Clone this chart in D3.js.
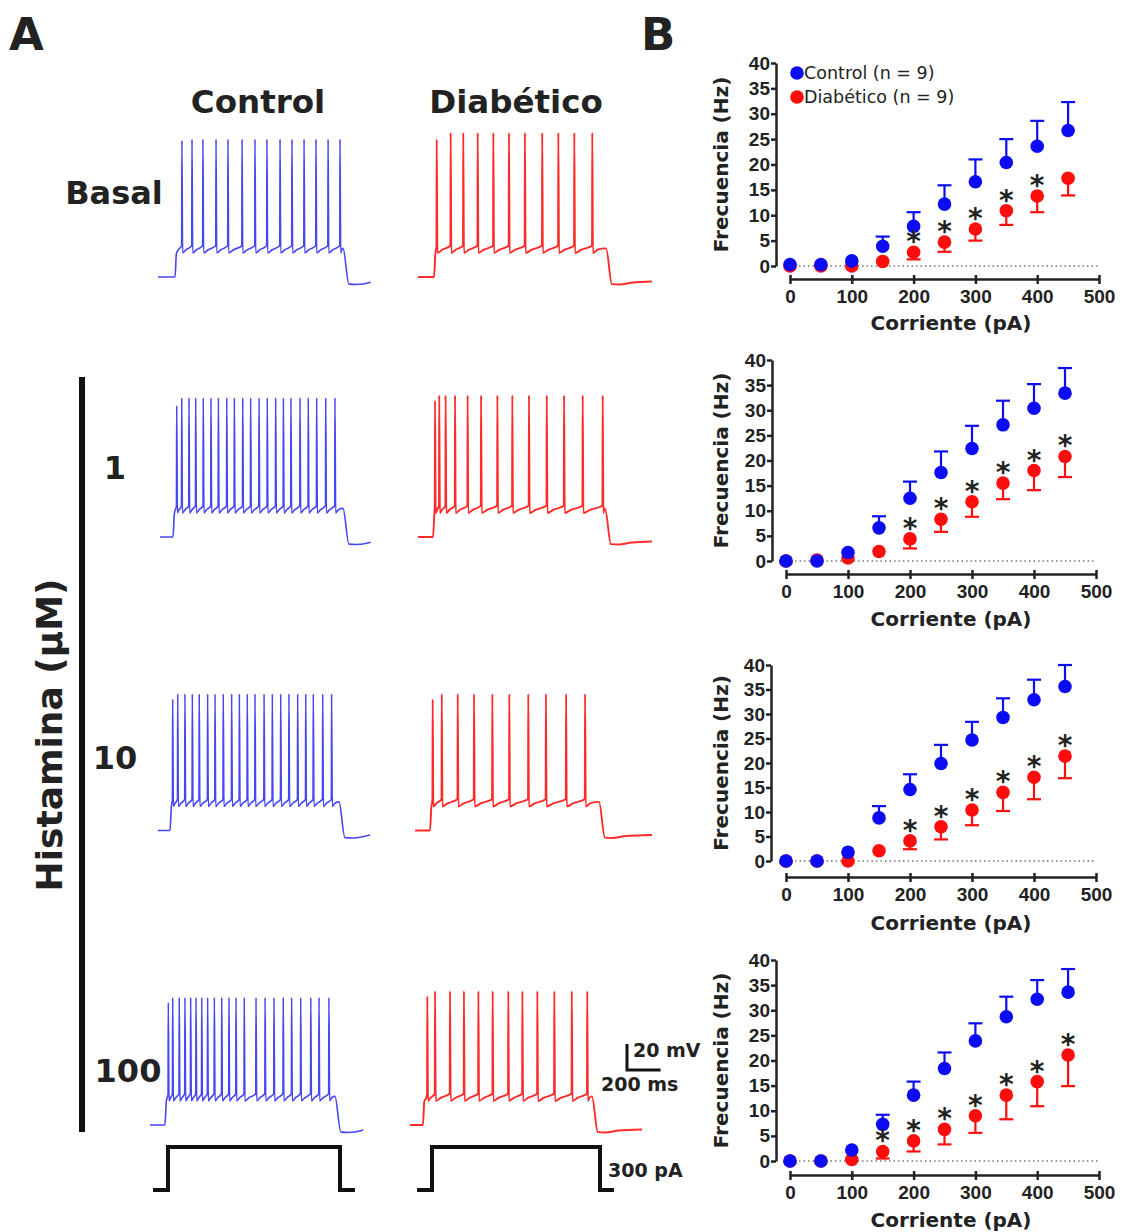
<!DOCTYPE html>
<html>
<head>
<meta charset="utf-8">
<script src="https://cdn.jsdelivr.net/npm/d3@7"></script>
<style>
  body { margin: 0; background: #fff; }
  svg text { font-family: "DejaVu Sans", sans-serif; fill: #222; }
  .axis path, .axis line { stroke: #222; stroke-width: 2.5; }
  .axis text { font-family: "Liberation Sans", Arial, sans-serif; font-weight: bold; font-size: 19px; fill: #222; }
</style>
</head>
<body>
<svg id="fig" width="1124" height="1232"></svg>
<script>
/* ---- data: panel B, frequency vs current ---- */
var currents = [0, 50, 100, 150, 200, 250, 300, 350, 400, 450];
var xTicks = [0, 100, 200, 300, 400, 500];
var yTicks = [0, 5, 10, 15, 20, 25, 30, 35, 40];

var ctrlBasal    = [0.3, 0.3, 1.0, 3.9, 7.8, 12.2, 16.6, 20.4, 23.6, 26.7];
var ctrlBasalErr = [0, 0, 0, 1.9, 2.8, 3.7, 4.4, 4.6, 5.0, 5.6];
var diabBasal    = [0, 0, 0, 0.9, 2.7, 4.7, 7.3, 10.9, 13.8, 17.3];
var diabBasalErr = [0, 0, 0, 0, 1.4, 1.9, 2.3, 2.8, 3.2, 3.4];
var starsBasal   = [200, 250, 300, 350, 400];

var ctrlH1    = [0, 0, 1.7, 6.6, 12.5, 17.6, 22.4, 27.1, 30.4, 33.4];
var ctrlH1Err = [0, 0, 0, 2.3, 3.3, 4.2, 4.5, 4.8, 4.8, 5.0];
var diabH1    = [0, 0.2, 0.6, 1.9, 4.4, 8.3, 11.8, 15.5, 18.0, 20.8];
var diabH1Err = [0, 0, 0, 0, 1.9, 2.5, 3.0, 3.2, 3.9, 4.1];
var starsH1   = [200, 250, 300, 350, 400, 450];

var ctrlH10    = [0, 0, 1.8, 8.8, 14.6, 19.9, 24.7, 29.3, 32.9, 35.6];
var ctrlH10Err = [0, 0, 0, 2.4, 3.1, 3.8, 3.7, 3.9, 4.1, 4.4];
var diabH10    = [0, 0, 0, 2.1, 4.1, 7.0, 10.4, 14.0, 17.1, 21.4];
var diabH10Err = [0, 0, 0, 0, 1.7, 2.6, 3.1, 3.8, 4.5, 4.5];
var starsH10   = [200, 250, 300, 350, 400, 450];

var ctrlH100    = [0, 0, 2.2, 7.3, 13.1, 18.4, 23.9, 28.7, 32.2, 33.6];
var ctrlH100Err = [0, 0, 0, 1.9, 2.7, 3.2, 3.5, 4.0, 3.8, 4.6];
var diabH100    = [0, 0, 0.3, 1.9, 4.0, 6.3, 9.0, 13.1, 15.8, 21.1];
var diabH100Err = [0, 0, 0, 1.4, 2.1, 3.0, 3.4, 4.8, 4.9, 6.2];
var starsH100   = [150, 200, 250, 300, 350, 400, 450];

/* ---- data: panel A, recordings (ms, mV) ---- */
// window: trace start, step on, step off, trace end (ms)
var winCtrlBasal = [48, 149, 1149, 1310];
var spkCtrlBasal = [190, 250, 315, 393, 464, 548, 625, 696, 774, 845, 917, 988, 1060, 1131];
var pkCtrlBasal  = [40, 41];
var winDiabBasal = [48, 143, 1167, 1440];
var spkDiabBasal = [159, 242, 317, 403, 496, 589, 684, 787, 883, 978, 1085];
var pkDiabBasal  = [41, 46];

var winCtrlH1 = [60, 137, 1149, 1310];
var spkCtrlH1 = [159, 189, 232, 272, 317, 363, 407, 457, 502, 552, 599, 649, 698, 748, 794, 839, 893, 942, 992, 1046, 1101];
var pkCtrlH1  = [36, 42];
var winDiabH1 = [48, 137, 1161, 1440];
var spkDiabH1 = [149, 174, 212, 268, 343, 423, 520, 609, 708, 814, 917, 1028, 1147];
var pkDiabH1  = [40, 44];

var winCtrlH10 = [48, 119, 1125, 1310];
var spkCtrlH10 = [135, 165, 208, 252, 293, 343, 387, 436, 486, 532, 579, 625, 679, 728, 778, 827, 879, 927, 972, 1028, 1081];
var pkCtrlH10  = [36, 40];
var winDiabH10 = [30, 119, 1125, 1440];
var spkDiabH10 = [135, 189, 284, 381, 490, 591, 704, 809, 929, 1042];
var pkDiabH10  = [36, 40];

var winCtrlH100 = [0, 89, 1101, 1268];
var spkCtrlH100 = [109, 135, 174, 208, 242, 274, 308, 343, 383, 427, 470, 512, 561, 631, 685, 738, 793, 843, 897, 957, 1006, 1065];
var pkCtrlH100  = [29, 33];
var winDiabH100 = [0, 77, 1083, 1381];
var spkDiabH100 = [103, 149, 238, 321, 407, 492, 585, 669, 758, 859, 963, 1055];
var pkDiabH100  = [34, 38];

var vRest = -65;
var stimCtrl = [18, 107, 1131, 1220];
var stimDiab = [42, 131, 1131, 1214];
var stimAmp = 300;

var rowLabels = ['Basal', '1', '10', '100'];

var svg = d3.select('#fig');
var BLUE = '#0c0cf4', RED = '#ff0d0d';

/* ================= Panel A ================= */
var colX = [150, 410];
var rowBase = [277, 537, 830.5, 1125];

function tracePoints(win, spk, pk) {
  var plat = vRest + 21, thr = vRest + 24, trough = vRest + 18.5;
  var p = [[win[0], vRest], [win[1], vRest]];
  if (win[1] + 8 < spk[0] - 2) p.push([win[1] + 8, plat - 3]);
  if (win[1] + 20 < spk[0] - 2) p.push([win[1] + 20, plat]);
  spk.forEach(function(t, i) {
    var next = i < spk.length - 1 ? spk[i + 1] : win[2];
    p.push([t - 1.5, thr]);
    p.push([t, i ? pk[1] : pk[0]]);
    p.push([t + 4, trough]);
    p.push([t + 4 + (next - t) * 0.35, trough + 2.5]);
  });
  p.push([win[2], plat + 1]);
  p.push([win[2] + 35, vRest - 5.5]);
  p.push([win[2] + 80, vRest - 5.8]);
  p.push([win[2] + 160, vRest - 4.2]);
  p.push([win[3], vRest - 3.5]);
  return p;
}

var traces = [
  [0, 0, winCtrlBasal, spkCtrlBasal, pkCtrlBasal], [1, 0, winDiabBasal, spkDiabBasal, pkDiabBasal],
  [0, 1, winCtrlH1, spkCtrlH1, pkCtrlH1], [1, 1, winDiabH1, spkDiabH1, pkDiabH1],
  [0, 2, winCtrlH10, spkCtrlH10, pkCtrlH10], [1, 2, winDiabH10, spkDiabH10, pkDiabH10],
  [0, 3, winCtrlH100, spkCtrlH100, pkCtrlH100], [1, 3, winDiabH100, spkDiabH100, pkDiabH100]
];

traces.forEach(function(tr) {
  var t = d3.scaleLinear().domain([0, 1000]).range([colX[tr[0]], colX[tr[0]] + 168]);
  var v = d3.scaleLinear().domain([vRest, vRest + 100]).range([rowBase[tr[1]], rowBase[tr[1]] - 130]);
  var line = d3.line().curve(d3.curveMonotoneX)
    .x(function(d) { return t(d[0]); }).y(function(d) { return v(d[1]); });
  svg.append('path')
    .attr('d', line(tracePoints(tr[2], tr[3], tr[4])))
    .attr('fill', 'none')
    .attr('stroke', tr[0] === 0 ? '#4646f2' : '#ff2b2b')
    .attr('stroke-width', tr[0] === 0 ? 1.6 : 1.9)
    .attr('stroke-linejoin', 'round');
});

// current step
[stimCtrl, stimDiab].forEach(function(s, c) {
  var t = d3.scaleLinear().domain([0, 1000]).range([colX[c], colX[c] + 168]);
  var a = d3.scaleLinear().domain([0, stimAmp]).range([1190, 1147]);
  var pts = [[s[0], 0], [s[1], 0], [s[1], stimAmp], [s[2], stimAmp], [s[2], 0], [s[3], 0]];
  svg.append('path')
    .attr('d', d3.line().x(function(d) { return t(d[0]); }).y(function(d) { return a(d[1]); })(pts))
    .attr('fill', 'none').attr('stroke', '#111').attr('stroke-width', 4);
});

// scale bar (200 ms, 20 mV)
var sbT = d3.scaleLinear().domain([0, 1000]).range([627, 627 + 168]);
var sbV = d3.scaleLinear().domain([0, 100]).range([1070, 1070 - 130]);
svg.append('path')
  .attr('d', 'M' + sbT(0) + ',' + sbV(20) + 'V' + sbV(0) + 'H' + sbT(200))
  .attr('fill', 'none').attr('stroke', '#111').attr('stroke-width', 3);
svg.append('text').attr('x', 633).attr('y', 1057).attr('font-size', 19).attr('font-weight', 'bold').text('20 mV');
svg.append('text').attr('x', 601).attr('y', 1091).attr('font-size', 19).attr('font-weight', 'bold').text('200 ms');
svg.append('text').attr('x', 608).attr('y', 1177).attr('font-size', 19).attr('font-weight', 'bold').text('300 pA');

// panel A labels
svg.append('text').attr('x', 9).attr('y', 50).attr('font-size', 45).attr('font-weight', 'bold').text('A');
svg.append('text').attr('x', 641).attr('y', 50).attr('font-size', 45).attr('font-weight', 'bold').text('B');
svg.append('text').attr('x', 258).attr('y', 113).attr('text-anchor', 'middle')
  .attr('font-size', 32.5).attr('font-weight', 'bold').text('Control');
svg.append('text').attr('x', 516).attr('y', 113).attr('text-anchor', 'middle')
  .attr('font-size', 32.5).attr('font-weight', 'bold').text('Diabético');

var labelPos = [[114, 204], [115, 479], [115, 769], [128, 1082]];
rowLabels.forEach(function(l, i) {
  svg.append('text').attr('x', labelPos[i][0]).attr('y', labelPos[i][1])
    .attr('text-anchor', 'middle').attr('font-size', 32).attr('font-weight', 'bold').text(l);
});

svg.append('rect').attr('x', 79).attr('y', 377).attr('width', 6).attr('height', 755).attr('fill', '#111');
svg.append('text')
  .attr('transform', 'translate(62,735) rotate(-90)')
  .attr('text-anchor', 'middle').attr('font-size', 36).attr('font-weight', 'bold')
  .text('Histamina (µM)');

/* ================= Panel B ================= */
var plots = [
  { ctrl: ctrlBasal, ce: ctrlBasalErr, diab: diabBasal, de: diabBasalErr, stars: starsBasal,
    xr: [790, 1099], yr: [266, 63], ax: 776, ay: 279, ty: 330, legend: true },
  { ctrl: ctrlH1, ce: ctrlH1Err, diab: diabH1, de: diabH1Err, stars: starsH1,
    xr: [786, 1096], yr: [561, 360], ax: 772, ay: 574, ty: 626 },
  { ctrl: ctrlH10, ce: ctrlH10Err, diab: diabH10, de: diabH10Err, stars: starsH10,
    xr: [786, 1096], yr: [861, 665], ax: 771, ay: 877, ty: 930 },
  { ctrl: ctrlH100, ce: ctrlH100Err, diab: diabH100, de: diabH100Err, stars: starsH100,
    xr: [790, 1099], yr: [1161, 960], ax: 776, ay: 1175, ty: 1227 }
];

function drawPlot(p) {
  var x = d3.scaleLinear().domain([0, 500]).range(p.xr),
      y = d3.scaleLinear().domain([0, 40]).range(p.yr);
  var g = svg.append('g');

  g.append('line')
    .attr('x1', x(0)).attr('x2', x(500)).attr('y1', y(0)).attr('y2', y(0))
    .attr('stroke', '#777').attr('stroke-width', 1.5).attr('stroke-dasharray', '1.5,3');

  g.append('g').attr('class', 'axis')
    .attr('transform', 'translate(0,' + p.ay + ')')
    .call(d3.axisBottom(x).tickValues(xTicks).tickSize(5).tickSizeOuter(0).tickPadding(6))
    .selectAll('.tick line').attr('y1', -4);
  g.append('g').attr('class', 'axis')
    .attr('transform', 'translate(' + p.ax + ',0)')
    .call(d3.axisLeft(y).tickValues(yTicks).tickSize(5).tickSizeOuter(0).tickPadding(1));

  g.append('text')
    .attr('transform', 'translate(728,' + ((p.yr[0] + p.yr[1]) / 2) + ') rotate(-90)')
    .attr('text-anchor', 'middle').attr('font-size', 20).attr('font-weight', 'bold')
    .text('Frecuencia (Hz)');
  g.append('text').attr('x', 951).attr('y', p.ty).attr('text-anchor', 'middle')
    .attr('font-size', 20).attr('font-weight', 'bold').text('Corriente (pA)');

  // series: diabetic first (error bars down), then control (error bars up)
  [[p.diab, p.de, RED, -1], [p.ctrl, p.ce, BLUE, 1]].forEach(function(s) {
    var vals = s[0], errs = s[1], col = s[2], dir = s[3];
    var withErr = currents.map(function(c, i) { return i; }).filter(function(i) { return errs[i] > 0; });
    g.selectAll(null).data(withErr).enter().append('line')
      .attr('x1', function(i) { return x(currents[i]); })
      .attr('x2', function(i) { return x(currents[i]); })
      .attr('y1', function(i) { return y(vals[i]); })
      .attr('y2', function(i) { return y(vals[i] + dir * errs[i]); })
      .attr('stroke', col).attr('stroke-width', 2.2);
    g.selectAll(null).data(withErr).enter().append('line')
      .attr('x1', function(i) { return x(currents[i]) - 7; })
      .attr('x2', function(i) { return x(currents[i]) + 7; })
      .attr('y1', function(i) { return y(vals[i] + dir * errs[i]); })
      .attr('y2', function(i) { return y(vals[i] + dir * errs[i]); })
      .attr('stroke', col).attr('stroke-width', 2.2);
    g.selectAll(null).data(vals).enter().append('circle')
      .attr('cx', function(d, i) { return x(currents[i]); })
      .attr('cy', function(d) { return y(d); })
      .attr('r', 6.8).attr('fill', col);
  });

  g.selectAll(null).data(p.stars).enter().append('text')
    .attr('x', function(c) { return x(c); })
    .attr('y', function(c) { return y(p.diab[currents.indexOf(c)]) - 1; })
    .attr('text-anchor', 'middle').attr('font-size', 28).attr('font-weight', 'bold')
    .text('*');

  if (p.legend) {
    [['Control (n = 9)', BLUE, 73, 79], ['Diabético (n = 9)', RED, 97, 103]].forEach(function(l) {
      g.append('circle').attr('cx', 797).attr('cy', l[2]).attr('r', 6.8).attr('fill', l[1]);
      g.append('text').attr('x', 804).attr('y', l[3]).attr('font-size', 17.5).text(l[0]);
    });
  }
}

plots.forEach(drawPlot);
</script>
</body>
</html>
